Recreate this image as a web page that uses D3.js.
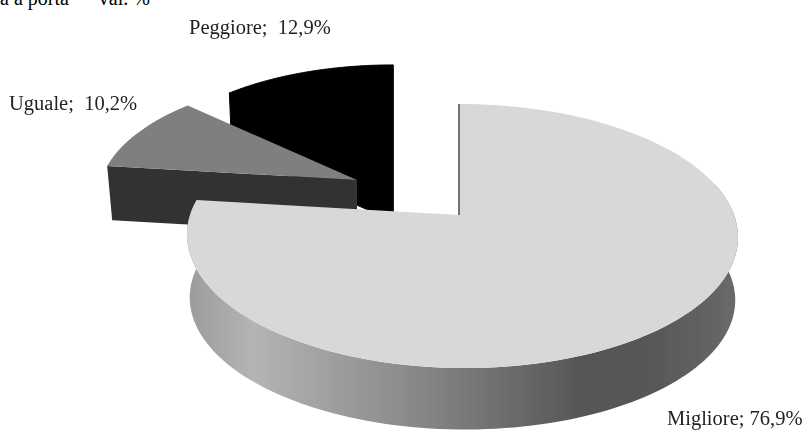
<!DOCTYPE html>
<html><head><meta charset="utf-8">
<script src="https://cdn.jsdelivr.net/npm/d3@7"></script>
<style>html,body{margin:0;background:#fff;overflow:hidden}svg{display:block}text{font-family:"Liberation Serif",serif;fill:#222;white-space:pre}</style>
</head><body><div id="c"></div>
<script>
const categories = ["Migliore","Uguale","Peggiore"];
const values = [76.9,10.2,12.9];
const labels = ["Migliore; 76,9%","Uguale;  10,2%","Peggiore;  12,9%"];
const title = "a a porta  \u2013  val. %";
const topColors = ["#d8d8d8","#7f7f7f","#000000"];
const wallColors = ["url(#wall)","#333333","#000000"];

const W=812,H=430;
const svg=d3.select("#c").append("svg").attr("width",W).attr("height",H);
const defs=svg.append("defs");
const g=defs.append("linearGradient").attr("id","wall").attr("gradientUnits","userSpaceOnUse")
  .attr("x1",188).attr("x2",739).attr("y1",0).attr("y2",0);
[[0,"#9c9c9c"],[.12,"#b4b4b4"],[.4,"#8a8a8a"],[.72,"#555555"],[.85,"#585858"],[1,"#6a6a6a"]]
  .forEach(s=>g.append("stop").attr("offset",s[0]).attr("stop-color",s[1]));
defs.append("filter").attr("id","soft").append("feGaussianBlur").attr("stdDeviation",0.5);
defs.append("filter").attr("id","softT").append("feGaussianBlur").attr("stdDeviation",0.35);
const root=svg.append("g").attr("filter","url(#soft)");

const pie=d3.pie().sort(null).value(d=>d);
const arcs=pie(values);
const k=0.159;
const geo=[
 {cx:462,ax:459,cy:215,B:272,A:128.7,d:63,bs:0.99},
 {cx:357,ax:357,cy:180,B:256,A:120,d:54,bs:0.98},
 {cx:396,ax:393,cy:165,B:252,A:116,d:56,bs:0.985}
];
function proj(p,a,depth){
  const u=Math.sin(a),v=-Math.cos(a),s=depth?p.bs:1,w=1-k*v;
  return [p.cx+p.B*s*u/w+3*v, p.cy+(depth?p.d:0)+p.A*s*v/w];
}
const line=d3.line();
const range=(a,b,n=120)=>d3.range(n+1).map(i=>a+(b-a)*i/n);

function slice(i){
  const p=geo[i],c=arcs[i];
  const apex=[p.ax,p.cy],apexB=[p.ax,p.cy+p.d];
  const s=c.startAngle,e=c.endAngle;
  const a0=Math.max(s,Math.PI*0.42),a1=e;
  const solid=i===2?{stroke:"#000",w:1}:{stroke:"none",w:0};
  if(i===0){
    const rs=range(a0,a1);
    root.append("path").attr("d",line(rs.map(a=>proj(p,a,false)).concat(rs.slice().reverse().map(a=>proj(p,a,true))))+"Z")
      .attr("fill",wallColors[i]);
  } else {
    const pts=[apex,proj(p,s,false),proj(p,s,true),apexB];
    root.append("path").attr("d",line(pts)+"Z").attr("fill",wallColors[i]).attr("stroke",solid.stroke).attr("stroke-width",solid.w);
    if(i===2){
      const pe=[apex,proj(p,e,false),proj(p,e,true),apexB];
      root.append("path").attr("d",line(pe)+"Z").attr("fill",wallColors[i]).attr("stroke",solid.stroke).attr("stroke-width",solid.w);
    }
  }
  const top=[apex].concat(range(s,e).map(a=>proj(p,a,false)));
  root.append("path").attr("d",line(top)+"Z").attr("fill",topColors[i]).attr("stroke",solid.stroke).attr("stroke-width",solid.w);
  if(i===0){
    root.append("path").attr("d",line([apex,proj(p,s,false)])).attr("stroke","#555").attr("stroke-width",1.6).attr("fill","none");
  }
}
[2,1,0].forEach(slice);

const labelPos=[[667,425],[9,110],[189,34]];
svg.selectAll("text.l").data(labels).join("text").attr("class","l")
  .attr("x",(d,i)=>labelPos[i][0]).attr("y",(d,i)=>labelPos[i][1])
  .attr("font-size",20.5).attr("filter","url(#softT)").text(d=>d);
svg.append("text").attr("x",0).attr("y",5).attr("font-size",20).style("fill","#000").text(title);
</script></body></html>
